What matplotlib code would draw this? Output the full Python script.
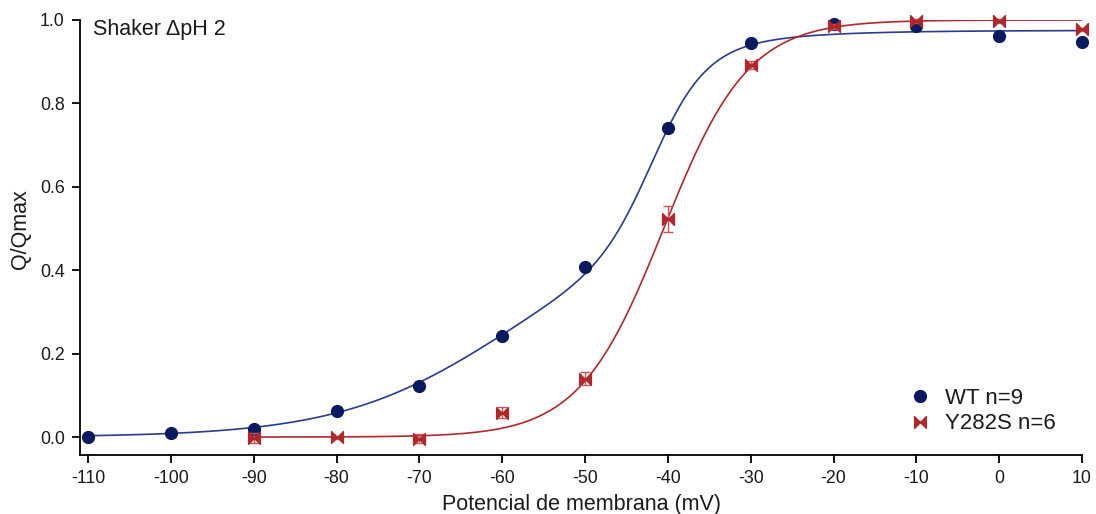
import numpy as np
import matplotlib
matplotlib.use("Agg")
import matplotlib.pyplot as plt
from matplotlib.path import Path

plt.rcParams['font.family'] = ['Liberation Sans', 'DejaVu Sans']

# ---- data ----
wt_v = [-110, -100, -90, -80, -70, -60, -50, -40, -30, -20, -10, 0, 10]
wt_q = [0.0, 0.01, 0.02, 0.062, 0.123, 0.242, 0.408, 0.74, 0.944, 0.99, 0.985, 0.962, 0.948]
wt_err = [0.004, 0.004, 0.005, 0.005, 0.006, 0.006, 0.007, 0.008, 0.006, 0.005, 0.005, 0.008, 0.008]

mut_v = [-90, -80, -70, -60, -50, -40, -30, -20, -10, 0, 10]
mut_q = [-0.002, -0.001, -0.004, 0.058, 0.14, 0.523, 0.892, 0.985, 0.997, 0.998, 0.978]
mut_err = [0.012, 0.004, 0.011, 0.013, 0.016, 0.032, 0.01, 0.006, 0.005, 0.004, 0.004]

# fitted Boltzmann parameters
wt_fit = dict(A=0.975, f=0.5, V1=-60.0, k1=10.0, V2=-41.8, k2=3.2)
mut_fit = dict(A=1.0, Vh=-40.5, k=5.1)

wt_label = "WT n=9"
mut_label = "Y282S n=6"
title_text = "Shaker \u0394pH 2"
xticks = [-110, -100, -90, -80, -70, -60, -50, -40, -30, -20, -10, 0, 10]
yticks = [0.0, 0.2, 0.4, 0.6, 0.8, 1.0]

navy = '#0a1a5e'
blue_line = '#2a3c8c'
red = '#b0282c'
red_err = '#c4575a'
txt = '#1a1a1a'

fig = plt.figure(figsize=(10.96, 5.14), dpi=100)
ax = fig.add_axes([80/1096, 59/514, (1082-80)/1096, (455-20)/514])

vv = np.linspace(-110, 10, 600)
p = wt_fit
wt_curve = p['A'] * (p['f'] / (1 + np.exp(-(vv - p['V1']) / p['k1'])) +
                     (1 - p['f']) / (1 + np.exp(-(vv - p['V2']) / p['k2'])))
ax.plot(vv, wt_curve, color=blue_line, lw=1.2, zorder=2)

vm = np.linspace(-90, 10, 500)
m = mut_fit
mut_curve = m['A'] / (1 + np.exp(-(vm - m['Vh']) / m['k']))
ax.plot(vm, mut_curve, color=red, lw=1.2, zorder=2)

# bowtie marker
bow = Path([(-1, -1), (0, 0), (-1, 1), (-1, -1), (1, -1), (0, 0), (1, 1), (1, -1)],
           [Path.MOVETO, Path.LINETO, Path.LINETO, Path.CLOSEPOLY,
            Path.MOVETO, Path.LINETO, Path.LINETO, Path.CLOSEPOLY])

eb1 = ax.errorbar(wt_v, wt_q, yerr=wt_err, fmt='none', ecolor=navy, elinewidth=1, capsize=3, zorder=3)
ax.plot(wt_v, wt_q, 'o', color=navy, ms=8.5, zorder=4, label=wt_label, clip_on=False)
eb2 = ax.errorbar(mut_v, mut_q, yerr=mut_err, fmt='none', ecolor=red_err, elinewidth=1, capsize=3.5, zorder=5)
ax.plot(mut_v, mut_q, marker=bow, ls='none', color=red, ms=8.5, zorder=6, label=mut_label, clip_on=False)
for eb in (eb1, eb2):
    for c in eb.get_children():
        c.set_clip_on(False)

ax.set_xlim(-110.97, 10)
ax.set_ylim(-0.043, 1.0)
ax.set_xticks(xticks)
ax.set_xticklabels([str(t) for t in xticks])
ax.set_yticks(yticks)
ax.set_yticklabels([f"{t:.1f}" for t in yticks])
for s in ['top', 'right']:
    ax.spines[s].set_visible(False)
for s in ['left', 'bottom']:
    ax.spines[s].set_linewidth(1.3)
ax.tick_params(direction='out', length=6, width=1.3, labelsize=12.8, pad=5, labelcolor=txt)

ax.set_xlabel("Potencial de membrana (mV)", fontsize=15.5, labelpad=5, color=txt)
ax.set_ylabel("Q/Qmax", fontsize=15.5, color=txt)
ax.yaxis.set_label_coords(-(80 - 31) / 1002, 0.52)
ax.text(93/1096, 1 - 30/514, title_text, transform=fig.transFigure, fontsize=15.5,
        va='center', ha='left', color=txt)

leg = ax.legend(loc='upper left', bbox_to_anchor=(909/1096, 1 - 388/514), bbox_transform=fig.transFigure,
                frameon=False, fontsize=16, handlelength=1.0, handletextpad=0.6, borderaxespad=0,
                borderpad=0, labelspacing=0.2)
for t in leg.get_texts():
    t.set_color(txt)

fig.savefig("out.png", dpi=100)
